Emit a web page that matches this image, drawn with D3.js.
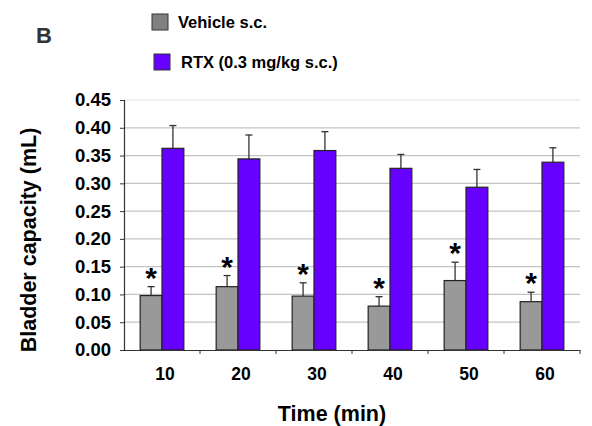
<!DOCTYPE html>
<html>
<head>
<meta charset="utf-8">
<script src="https://cdn.jsdelivr.net/npm/d3@7"></script>
<style>
    body { margin: 0; background: #fff; }
    text { font-family: Arial, "Liberation Sans", sans-serif; font-weight: bold; }
</style>
</head>
<body>
<svg id="chart" width="592" height="426"></svg>
<script>
const categories = ["10", "20", "30", "40", "50", "60"];
const series = ["Vehicle s.c.", "RTX (0.3 mg/kg s.c.)"];
const vehicle = [0.098, 0.114, 0.097, 0.079, 0.125, 0.087];
const vehicleErr = [0.016, 0.020, 0.024, 0.017, 0.033, 0.017];
const rtx = [0.363, 0.344, 0.359, 0.327, 0.293, 0.338];
const rtxErr = [0.041, 0.043, 0.034, 0.025, 0.032, 0.026];
const yTicks = [0, 0.05, 0.10, 0.15, 0.20, 0.25, 0.30, 0.35, 0.40, 0.45];

const colors = ["#999999", "#6600ff"];
const legendColors = ["#808080", "#6600ff"];

const svg = d3.select("#chart");
const margin = { top: 100, right: 12, bottom: 76, left: 124 };
const width = 592 - margin.left - margin.right;
const height = 426 - margin.top - margin.bottom;

const g = svg.append("g")
    .attr("transform", `translate(${margin.left},${margin.top})`);

const x = d3.scaleBand()
    .domain(categories)
    .range([0, width]);

const xs = d3.scaleBand()
    .domain(series)
    .range([0, x.bandwidth()])
    .paddingOuter(0.74);

const y = d3.scaleLinear()
    .domain([0, 0.45])
    .range([height, 0]);

// gridlines
g.append("g")
    .selectAll("line")
    .data(yTicks.slice(1))
    .enter().append("line")
    .attr("x1", 0)
    .attr("x2", width)
    .attr("y1", d => y(d))
    .attr("y2", d => y(d))
    .attr("stroke", d => d === 0.45 ? "#e2e2e2" : "#c4c4c4")
    .attr("stroke-width", 1.2);

const rows = categories.map((c, i) => ({
    cat: c,
    bars: [
        { s: series[0], v: vehicle[i], e: vehicleErr[i], c: colors[0] },
        { s: series[1], v: rtx[i], e: rtxErr[i], c: colors[1] }
    ]
}));

const groups = g.selectAll(".grp")
    .data(rows)
    .enter().append("g")
    .attr("class", "grp")
    .attr("transform", d => `translate(${x(d.cat)},0)`);

// error bars (upper only)
groups.selectAll(".err")
    .data(d => d.bars)
    .enter().append("g")
    .attr("class", "err")
    .each(function (d) {
        const cx = xs(d.s) + xs.bandwidth() / 2;
        const sel = d3.select(this);
        sel.append("line")
            .attr("x1", cx).attr("x2", cx)
            .attr("y1", y(d.v)).attr("y2", y(d.v + d.e))
            .attr("stroke", "#333").attr("stroke-width", 1.3);
        sel.append("line")
            .attr("x1", cx - 3.5).attr("x2", cx + 3.5)
            .attr("y1", y(d.v + d.e)).attr("y2", y(d.v + d.e))
            .attr("stroke", "#333").attr("stroke-width", 1.3);
    });

groups.selectAll("rect")
    .data(d => d.bars)
    .enter().append("rect")
    .attr("x", d => xs(d.s))
    .attr("y", d => y(d.v))
    .attr("width", xs.bandwidth())
    .attr("height", d => height - y(d.v))
    .attr("fill", d => d.c)
    .attr("stroke", "#222")
    .attr("stroke-width", 1.2);

// asterisks above vehicle bars
groups.append("text")
    .attr("x", xs(series[0]) + xs.bandwidth() / 2)
    .attr("y", d => y(d.bars[0].v + d.bars[0].e) + 1)
    .attr("text-anchor", "middle")
    .attr("font-size", 30)
    .attr("fill", "#000")
    .text("*");

// y axis
const yAxis = g.append("g")
    .call(d3.axisLeft(y).tickValues(yTicks).tickFormat(d3.format(".2f")).tickSize(4).tickPadding(9));
yAxis.select(".domain").attr("stroke", "#333").attr("stroke-width", 1.2);
yAxis.selectAll(".tick line").attr("stroke", "#333");
yAxis.selectAll("text")
    .attr("font-size", 18.5)
    .attr("font-family", "Arial, 'Liberation Sans', sans-serif")
    .attr("font-weight", "bold")
    .attr("fill", "#000");

// x axis
const xAxis = g.append("g")
    .attr("transform", `translate(0,${height})`)
    .call(d3.axisBottom(x).tickSize(0).tickPadding(18));
xAxis.select(".domain").attr("stroke", "#333").attr("stroke-width", 1.2);
xAxis.selectAll("text")
    .attr("dx", 3)
    .attr("font-size", 17.5)
    .attr("font-family", "Arial, 'Liberation Sans', sans-serif")
    .attr("font-weight", "bold")
    .attr("fill", "#000");
xAxis.selectAll(".sep")
    .data(categories)
    .enter().append("line")
    .attr("class", "sep")
    .attr("x1", d => x(d) + x.bandwidth())
    .attr("x2", d => x(d) + x.bandwidth())
    .attr("y1", 0).attr("y2", 4)
    .attr("stroke", "#333");

// axis titles
svg.append("text")
    .attr("x", 332)
    .attr("y", 421)
    .attr("text-anchor", "middle")
    .attr("font-size", 21.5)
    .text("Time (min)");

svg.append("text")
    .attr("transform", "translate(36,240) rotate(-90)")
    .attr("text-anchor", "middle")
    .attr("font-size", 21.5)
    .text("Bladder capacity (mL)");

// panel letter
svg.append("text")
    .attr("x", 36)
    .attr("y", 43)
    .attr("font-size", 22)
    .attr("fill", "#333")
    .text("B");

// legend
const legend = [
    { label: series[0], color: legendColors[0], x: 152, y: 14, tx: 178, ty: 28 },
    { label: series[1], color: legendColors[1], x: 154, y: 54, tx: 181, ty: 68 }
];
legend.forEach(d => {
    svg.append("rect")
        .attr("x", d.x).attr("y", d.y)
        .attr("width", 16).attr("height", 16)
        .attr("fill", d.color)
        .attr("stroke", "#333");
    svg.append("text")
        .attr("x", d.tx).attr("y", d.ty)
        .attr("font-size", 16.5)
        .text(d.label);
});
</script>
</body>
</html>
